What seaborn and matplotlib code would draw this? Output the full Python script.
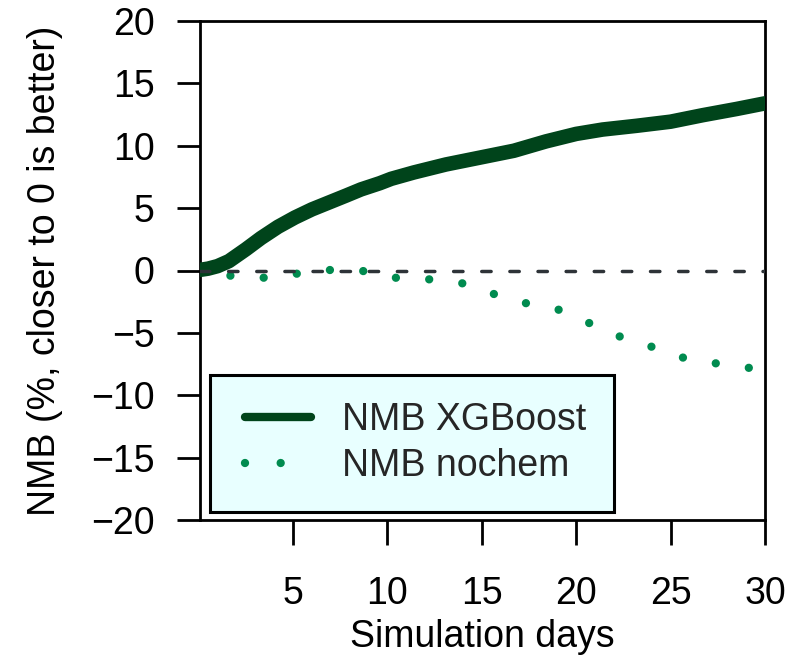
import matplotlib
matplotlib.use("Agg")
import matplotlib.pyplot as plt
from matplotlib.lines import Line2D
from matplotlib.legend_handler import HandlerLine2D
import seaborn as sns
import pandas as pd

# Normalized mean bias over the simulation period
days_xgb = [0.07, 0.5, 1.0, 1.6, 2.5, 3.3, 4.2, 5.1, 6.0, 6.9, 7.8, 8.6, 9.6,
            10.2, 11.4, 13.1, 14.9, 16.7, 18.4, 20.0, 21.4, 23.2, 25.0, 26.7,
            28.5, 30.0]
nmb_xgb = [0.05, 0.15, 0.35, 0.75, 1.7, 2.6, 3.5, 4.25, 4.9, 5.45, 6.0, 6.5,
           7.0, 7.35, 7.86, 8.5, 9.05, 9.6, 10.35, 10.95, 11.3, 11.6, 11.93,
           12.45, 12.95, 13.4]

days_nochem = [0.07, 1.70, 3.43, 5.17, 6.94, 8.70, 10.43, 12.16, 13.93, 15.63,
               17.34, 19.06, 20.70, 22.32, 24.01, 25.73, 27.47, 29.23]
nmb_nochem = [0.0, -0.42, -0.58, -0.26, 0.04, -0.04, -0.58, -0.70, -1.01,
              -1.88, -2.62, -3.14, -4.22, -5.30, -6.12, -7.02, -7.46, -7.82]

x_ticks = [5, 10, 15, 20, 25, 30]
y_ticks = [-20, -15, -10, -5, 0, 5, 10, 15, 20]
labels = ["NMB XGBoost", "NMB nochem"]

xgb_color = "#00441B"
nochem_color = "#008B4F"
zero_color = "#2E3338"

sns.set_theme(style="white")
plt.rcParams["font.family"] = ["Liberation Sans", "DejaVu Sans"]
plt.rcParams["axes.unicode_minus"] = True

df_xgb = pd.DataFrame({"day": days_xgb, "nmb": nmb_xgb})
df_nochem = pd.DataFrame({"day": days_nochem, "nmb": nmb_nochem})

fig = plt.figure(figsize=(8.07, 6.58), dpi=100)
ax = fig.add_axes([200 / 807, 138 / 658, 565 / 807, 499 / 658])

sns.lineplot(data=df_nochem, x="day", y="nmb", ax=ax, color=nochem_color,
             linewidth=6, linestyle=(0.3, (0.001, 4.0)),
             dash_capstyle="round", zorder=2)
sns.lineplot(data=df_xgb, x="day", y="nmb", ax=ax, color=xgb_color,
             linewidth=10.5, solid_capstyle="round", zorder=3)
ax.axhline(0, color=zero_color, linewidth=2.5, linestyle=(0, (2.7, 5.4)),
           dash_capstyle="round", zorder=4)

ax.set_xlim(0.07, 30)
ax.set_ylim(-20, 20)
ax.set_xticks(x_ticks)
ax.set_yticks(y_ticks)
ax.tick_params(axis="x", direction="out", length=18, width=2, pad=22,
               labelsize=27, colors="black", bottom=True)
ax.tick_params(axis="y", direction="out", length=16.5, width=2, pad=16,
               labelsize=27, colors="black", left=True)
for sp in ax.spines.values():
    sp.set_visible(True)
    sp.set_linewidth(2)
    sp.set_color("black")

ax.set_xlabel("Simulation days", fontsize=27, color="black")
ax.set_ylabel("NMB (%, closer to 0 is better)", fontsize=27, color="black")
ax.xaxis.set_label_coords(0.5, -0.198)
ax.yaxis.set_label_coords(-0.2425, 0.5)


class ShiftedLineHandler(HandlerLine2D):
    """Line handler that starts the sample line a bit inside its box."""

    def __init__(self, shift, **kw):
        super().__init__(**kw)
        self.shift = shift

    def create_artists(self, legend, orig_handle, xdescent, ydescent,
                       width, height, fontsize, trans):
        s = self.shift * fontsize
        return super().create_artists(legend, orig_handle, xdescent - s,
                                      ydescent, width - s, height,
                                      fontsize, trans)


h_xgb = Line2D([], [], color=xgb_color, linewidth=6, solid_capstyle="round")
h_nochem = Line2D([], [], color=nochem_color, linewidth=6,
                  linestyle=(0, (0.001, 4.28)), dash_capstyle="round")
leg = ax.legend([h_xgb, h_nochem], labels, loc="lower left",
                bbox_to_anchor=(0.0177, 0.017), borderaxespad=0,
                fontsize=27, handlelength=1.95, handletextpad=0.85,
                borderpad=0.73, labelspacing=0.27, frameon=True,
                fancybox=False, edgecolor="black", facecolor="#E8FFFF",
                framealpha=1,
                handler_map={h_xgb: ShiftedLineHandler(0.214),
                             h_nochem: ShiftedLineHandler(0.214)})
leg.get_frame().set_linewidth(2.2)
leg.set_zorder(5)

fig.savefig("out.png", dpi=100)
